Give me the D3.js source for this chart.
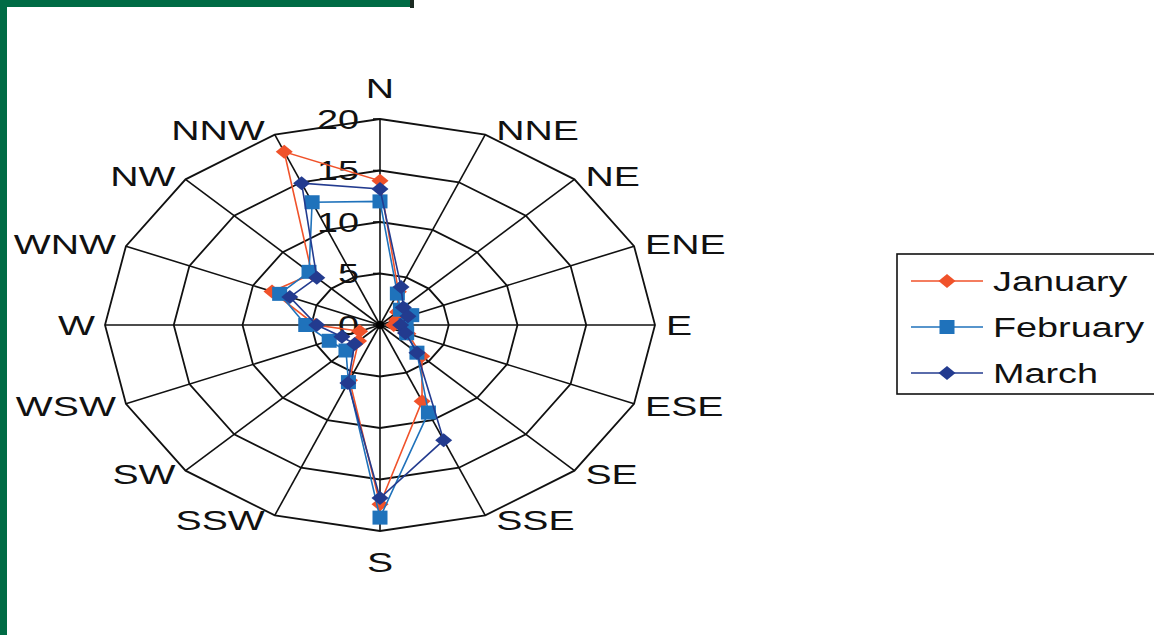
<!DOCTYPE html>
<html><head><meta charset="utf-8">
<script src="https://cdn.jsdelivr.net/npm/d3@7"></script>
<style>
html,body{margin:0;padding:0;background:#fff;}
svg{display:block;}
text{font-family:"Liberation Sans",Arial,sans-serif;fill:#111;}
</style></head>
<body>
<svg id="chart" width="1154" height="635"></svg>
<script>
const directions = ["N","NNE","NE","ENE","E","ESE","SE","SSE","S","SSW","SW","WSW","W","WNW","NW","NNW"];
const january  = [14.0, 3.5, 1.8, 1.3, 1.0, 2.2, 4.3, 8.0, 17.4, 5.8, 2.2, 1.6, 4.7, 8.5, 7.0, 18.2];
const february = [12.0, 3.3, 2.1, 2.5, 1.9, 2.1, 3.8, 9.2, 18.7, 6.0, 3.5, 4.0, 5.4, 7.9, 7.3, 12.9];
const march    = [13.2, 4.0, 2.4, 2.2, 1.5, 2.0, 3.8, 12.1, 16.8, 6.1, 2.6, 3.0, 4.6, 7.1, 6.5, 14.9];
const tickValues = [0, 5, 10, 15, 20];
const seriesNames = ["January", "February", "March"];

const series = [
  {name: seriesNames[0], values: january,  color: "#f0522a", shape: "diamond"},
  {name: seriesNames[1], values: february, color: "#1f72bb", shape: "square"},
  {name: seriesNames[2], values: march,    color: "#233b8f", shape: "diamond"}
];

const svg = d3.select("#chart");
const W = 1154, H = 635;
svg.append("rect").attr("width", W).attr("height", H).attr("fill", "#fff");

// frame
const green = "#006b45";
svg.append("rect").attr("x", 0).attr("y", 0).attr("width", 7).attr("height", H).attr("fill", green);
svg.append("rect").attr("x", 0).attr("y", 0).attr("width", 410).attr("height", 7).attr("fill", green);
svg.append("rect").attr("x", 410).attr("y", 0).attr("width", 4).attr("height", 8).attr("fill", "#1c2a22");

const cx = 380, cy = 325;
const rx = d3.scaleLinear().domain([0, 20]).range([0, 275]);
const ry = d3.scaleLinear().domain([0, 20]).range([0, 206]);
const angle = d3.scalePoint().domain(directions).range([0, 2 * Math.PI * (15 / 16)]);
const SX = 1.4;

function pos(dir, v) {
  const a = angle(dir);
  return [cx + rx(v) * Math.sin(a), cy - ry(v) * Math.cos(a)];
}

const g = svg.append("g");

// rings
tickValues.filter(t => t > 0).forEach(t => {
  g.append("path")
    .attr("d", d3.line()(directions.map(d => pos(d, t))) + "Z")
    .attr("fill", "none").attr("stroke", "#111").attr("stroke-width", 1.8);
});
// spokes
directions.forEach(d => {
  const p = pos(d, 20);
  g.append("line").attr("x1", cx).attr("y1", cy).attr("x2", p[0]).attr("y2", p[1])
    .attr("stroke", "#111").attr("stroke-width", 1.6);
});
// ticks on N axis
tickValues.forEach(t => {
  const y = cy - ry(t);
  g.append("line").attr("x1", cx - 7).attr("x2", cx).attr("y1", y).attr("y2", y)
    .attr("stroke", "#111").attr("stroke-width", 1.6);
  g.append("text")
    .attr("transform", `translate(${cx - 21},${y + 9.5}) scale(${SX},1)`)
    .attr("text-anchor", "end").attr("font-size", 27).text(t);
});

// axis labels
directions.forEach(d => {
  const a = angle(d);
  const p = pos(d, 20);
  const s = Math.sin(a), c = Math.cos(a);
  let x, y, anchor;
  if (Math.abs(s) < 1e-6) {
    x = p[0]; anchor = "middle";
    y = p[1] + (c > 0 ? -31 : 31);
  } else {
    x = p[0] + (s > 0 ? 11 : -10);
    anchor = s > 0 ? "start" : "end";
    y = p[1] - c * 5;
  }
  g.append("text")
    .attr("transform", `translate(${x},${y + 10}) scale(${SX},1)`)
    .attr("text-anchor", anchor).attr("font-size", 28).text(d);
});

// markers
function marker(sel, shape, color, x, y) {
  if (shape === "square") {
    sel.append("rect").attr("x", x - 7.5).attr("y", y - 7).attr("width", 15).attr("height", 14)
      .attr("fill", color);
  } else {
    sel.append("path").attr("d", `M${x - 8.5},${y} L${x},${y - 7} L${x + 8.5},${y} L${x},${y + 7}Z`)
      .attr("fill", color);
  }
}

// series
series.forEach(s => {
  const pts = directions.map((d, i) => pos(d, s.values[i]));
  const sg = g.append("g");
  sg.append("path").attr("d", d3.line()(pts) + "Z")
    .attr("fill", "none").attr("stroke", s.color).attr("stroke-width", 1.6);
  pts.forEach(p => marker(sg, s.shape, s.color, p[0], p[1]));
});
// center dot
g.append("circle").attr("cx", cx).attr("cy", cy).attr("r", 4).attr("fill", "#000");

// legend
const lg = svg.append("g");
lg.append("rect").attr("x", 897).attr("y", 254).attr("width", 320).attr("height", 140)
  .attr("fill", "#fff").attr("stroke", "#111").attr("stroke-width", 1.6);
const legendY = d3.scalePoint().domain(seriesNames).range([281, 373]);
series.forEach(s => {
  const y = legendY(s.name);
  lg.append("line").attr("x1", 911).attr("x2", 983).attr("y1", y).attr("y2", y)
    .attr("stroke", s.color).attr("stroke-width", 1.6);
  marker(lg, s.shape, s.color, 947, y);
  lg.append("text").attr("transform", `translate(993,${y + 9.5}) scale(${SX},1)`)
    .attr("font-size", 27).text(s.name);
});
</script>
</body></html>
